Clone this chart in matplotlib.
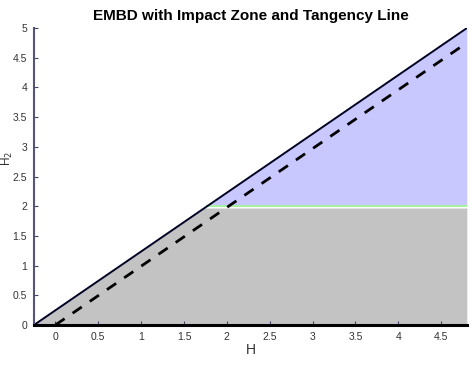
import numpy as np
import matplotlib
matplotlib.use("Agg")
import matplotlib.pyplot as plt

plt.rcParams["font.family"] = ["Liberation Sans", "DejaVu Sans"]

# data
x_range = [-0.25, 4.8]
boundary_slope = 0.99
boundary_x0 = -0.25          # solid EMBD line: H2 = slope*(H - x0)
tangency_slope = 0.99        # dashed tangency line: H2 = slope*H, from H=0
impact_level = 2.0
xticks = [0, 0.5, 1, 1.5, 2, 2.5, 3, 3.5, 4, 4.5]
yticks = [0, 0.5, 1, 1.5, 2, 2.5, 3, 3.5, 4, 4.5, 5]

fig = plt.figure(figsize=(4.72, 3.65), dpi=100)
ax = fig.add_axes([0.072, 0.1096, 0.917, 0.8134])

x = np.linspace(x_range[0], x_range[1], 500)
yb = boundary_slope * (x - boundary_x0)
ax.fill_between(x, 0, np.minimum(yb, impact_level - 0.03), color="#c3c3c3", lw=0)
mask = yb >= impact_level
ax.fill_between(x[mask], impact_level, yb[mask], color="#c8c8ff", lw=0)
ax.plot(x[mask], np.full(mask.sum(), impact_level), color="#a6f0a6", lw=1.5)
ax.plot(x, yb, color="#000022", lw=1.4)
xt = np.linspace(0, x_range[1], 200)
ax.plot(xt, tangency_slope * xt, color="black", lw=2, ls=(0, (4, 3.5)))

ax.set_xlim(*x_range)
ax.set_ylim(0, 5)
ax.set_xticks(xticks)
ax.set_xticklabels([f"{t:g}" for t in xticks])
ax.set_yticks(yticks)
ax.set_yticklabels([f"{t:g}" for t in yticks])
for s in ["top", "right"]:
    ax.spines[s].set_visible(False)
ax.spines["left"].set_color("#55557a")
ax.spines["left"].set_linewidth(1.5)
ax.spines["bottom"].set_color("black")
ax.spines["bottom"].set_linewidth(2.2)
ax.tick_params(direction="in", length=3, colors="#44446a", labelsize=7.5, labelcolor="#333333", pad=5)
ax.set_xlabel("H", fontsize=10, color="#333333", labelpad=1)
ax.set_ylabel("H$_2$", fontsize=8.5, color="#333333")
ax.yaxis.set_label_coords(-0.043, 0.56)
ax.set_title("EMBD with Impact Zone and Tangency Line", fontsize=11, fontweight="bold", pad=6)
fig.savefig("out.png", dpi=100)
